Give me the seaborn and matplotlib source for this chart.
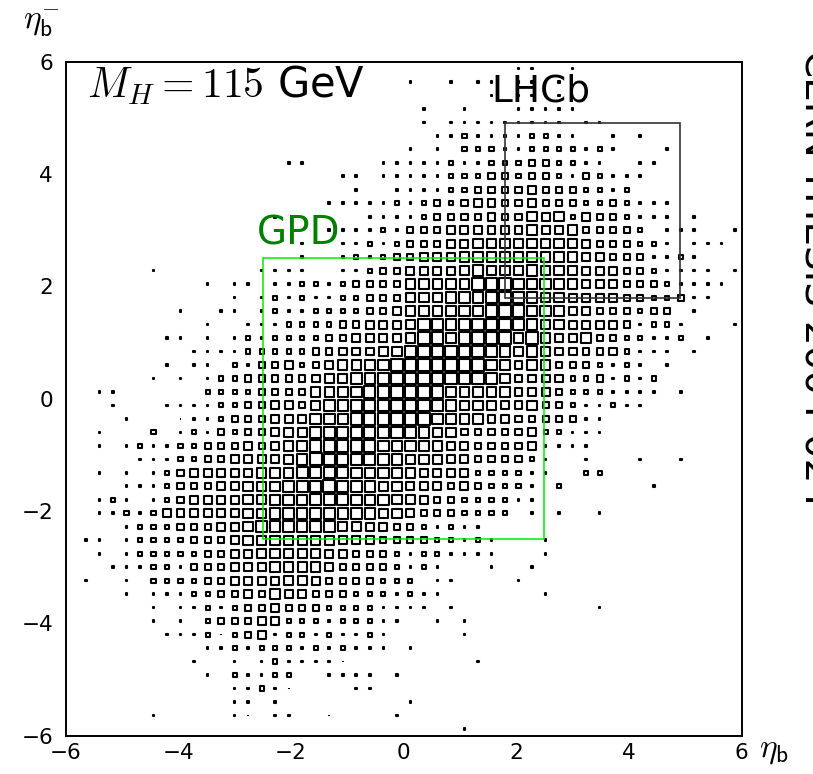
import numpy as np
import pandas as pd
import seaborn as sns
import matplotlib.pyplot as plt
from matplotlib.patches import Rectangle

# binning of the 2D histogram (eta_b vs eta_bbar), 50 x 50 bins
eta_min, eta_max, n_bins = -6.0, 6.0, 50

# box size of every bin, top row first
# '.' = empty bin, 1 = tiny dot ... 9 = box filling the whole bin
rows_top = [
    ".......... .......... .......... ...22..2.. ..........",
    ".......... .......... .....2..2. 22.22.2... ..........",
    ".......... .......... .......... .2.22.2... ..........",
    ".......... .......... ......2..2 ...22222.. ..........",
    ".......... .......... ......2.22 2222222.22 ..........",
    ".......... .......... .......223 22223322.. 2.2.......",
    ".......... .......... .....2.2.3 3322333323 2...2.....",
    ".......... ......22.. ...2222232 2333443322 ..22......",
    ".......... .......... 22.2222233 3443443243 222.......",
    ".......... .......... .2..222233 4444544433 23........",
    ".......... .........2 2222323434 5544544433 43222.....",
    ".......... .....2.... ..22223444 4544656354 43222.2...",
    ".......... .........2 2223244455 5555655644 443.222..2",
    ".......... .......2.. 2232344455 6666666654 443321222.",
    ".......... .......2.. 2323445556 6666666655 4442232...",
    "......2... ....2222.. 2234455556 7666766655 54432222.2",
    ".......... 2.22.22332 3444466666 8887776655 544432222.",
]
rows_mid = [
    ".......... ..2.232322 3344466677 7888766555 54433422..",
    "........2. .22.232233 3344566667 7888777554 44344.2...",
    ".......... 2..2223333 4455568878 8888766555 542332...2",
    ".......22. 2.23233334 4555568878 8886865564 433223.2..",
    ".........2 2223333344 5556678888 8876765544 53222.2...",
    ".......2.2 2.32445345 6677888888 8775664443 232.2.....",
    "......2.2. 2334444456 6778888888 8765555334 2323......",
    "..22...... 3333444466 7788888876 7665554333 2222.2....",
    "...2...222 2334455467 7788888776 6655644322 322.......",
    "....2...12 2344455577 7888888776 6554444422 ..........",
    "..2...3.23 2434456688 8888877664 4444533222 ..........",
    "..2.232233 4445456788 8887776655 444452222. ..........",
    ".....22233 4455556798 8887766655 444432..2. ..2..2....",
    "..2.2.2345 5555666888 8777665555 333322..33 ..........",
    "....222344 4556667889 8776655545 43332.3... ...2......",
    "..232.2345 5556677788 8777665443 33322..... ..........",
    "..22323555 5556677788 7776654443 333.2.2..2 ..........",
]
rows_bot = [
    "....233344 4556777777 6655443232 2......... ..........",
    ".22.233334 4456666666 5554444332 32...2.... ..........",
    "..2.233333 4455666665 5444323322 22...2.... ..........",
    "...2223324 4455566665 44443232.. .2..2..... ..........",
    ".2..2.3333 4455556654 444333.22. ...2...... ..........",
    "....212223 3445465544 43332322.. .....2.... ..........",
    "......2.22 3234454443 3332222.2. .........2 ..........",
    "......2.21 3444553332 33322..2.2 .......... ..........",
    ".......212 3134523323 2232.....2 .......... ..........",
    ".......... 2232333232 3222.2.... .......... ..........",
    ".........2 ..2.232222 1......... 2......... ..........",
    ".......... 2.322331.2 222.2..... .......... ..........",
    ".......... ..22321... .22....... .......... ..........",
    ".......... ..22.21... .....2.... .......... ..........",
    "......2... ..21.22..1 ....2..... .......... ..........",
    ".......... ...1...... .........2 .......... ..........",
]

# detector acceptance windows
gpd_window = (-2.5, 2.5)
lhcb_window = (1.8, 4.9)

major_ticks = [-6, -4, -2, 0, 2, 4, 6]

# --- build the table of filled bins ---
grid = [r.replace(" ", "") for r in rows_top + rows_mid + rows_bot]
assert len(grid) == n_bins and all(len(r) == n_bins for r in grid)

bw = (eta_max - eta_min) / n_bins
recs = []
for j, row in enumerate(grid):
    for i, c in enumerate(row):
        if c != ".":
            recs.append((eta_min + bw * (i + 0.5), eta_max - bw * (j + 0.5), int(c)))
df = pd.DataFrame(recs, columns=["eta_b", "eta_bbar", "level"])

# outer box size in pixels for each level, minus the edge width -> marker area in pt^2
edge_lw = 1.5
outer_px = [2.4, 3.7, 6.2, 8.2, 10.0, 11.5, 12.6, 13.4, 13.8]
size_map = {lv: (max(px - edge_lw / 0.72, 0.3) * 0.72) ** 2
            for lv, px in enumerate(outer_px, start=1)}

sns.set_style("white")
plt.rcParams["font.family"] = ["DejaVu Sans"]
plt.rcParams["mathtext.fontset"] = "cm"
plt.rcParams["text.color"] = "black"

fig = plt.figure(figsize=(8.13, 7.74), dpi=100)
ax = fig.add_axes([0.0807, 0.0495, 0.8315, 0.8708])

sns.scatterplot(data=df, x="eta_b", y="eta_bbar", size="level", sizes=size_map,
                marker="s", facecolor="none", edgecolor="black", linewidth=edge_lw,
                legend=False, ax=ax)

# acceptance boxes
g0, g1 = gpd_window
ax.add_patch(Rectangle((g0, g0), g1 - g0, g1 - g0, fill=False,
                       edgecolor="#00ee00", lw=1.1, zorder=3))
l0, l1 = lhcb_window
ax.add_patch(Rectangle((l0, l0), l1 - l0, l1 - l0, fill=False,
                       edgecolor="#333333", lw=1.2, zorder=3))

ax.text(-5.62, 5.36, r"$M_H = 115$ GeV", fontsize=30, va="baseline", color="black")
ax.text(-2.61, 2.74, "GPD", fontsize=28, color="#008000", va="baseline")
ax.text(1.565, 5.30, "LHCb", fontsize=27, va="baseline", color="black", zorder=4)

ax.set_xlim(eta_min, eta_max)
ax.set_ylim(eta_min, eta_max)
ax.set_xticks(major_ticks)
ax.set_yticks(major_ticks)
ax.set_xticks(np.arange(eta_min, eta_max + 0.01, 0.5), minor=True)
ax.set_yticks(np.arange(eta_min, eta_max + 0.01, 0.5), minor=True)
ax.tick_params(which="both", direction="in", top=False, right=False,
               width=1.0, labelsize=15.5, colors="black")
ax.tick_params(which="major", length=9.4)
ax.tick_params(which="minor", length=4.3)
ax.tick_params(axis="x", pad=5)
ax.tick_params(axis="y", pad=9)
ax.set_xlabel("")
ax.set_ylabel("")
for sp in ax.spines.values():
    sp.set_visible(True)
    sp.set_color("black")
    sp.set_linewidth(1.4)

fig.text(41 / 813, 1 - 22 / 774, r"$\eta_{\mathsf{b}}^{-}$", fontsize=24,
         ha="center", va="center")
fig.text(774 / 813, 1 - 750 / 774, r"$\eta_{\mathsf{b}}$", fontsize=24,
         ha="center", va="center")

# report number stamped along the right edge (partly cut off)
fig.text(802 / 813, 1 - 52 / 774, "CERN-THESIS-2004-024", fontsize=28,
         rotation=-90, rotation_mode="anchor", ha="left", va="baseline")

fig.savefig("out.png", dpi=100)
plt.close(fig)
